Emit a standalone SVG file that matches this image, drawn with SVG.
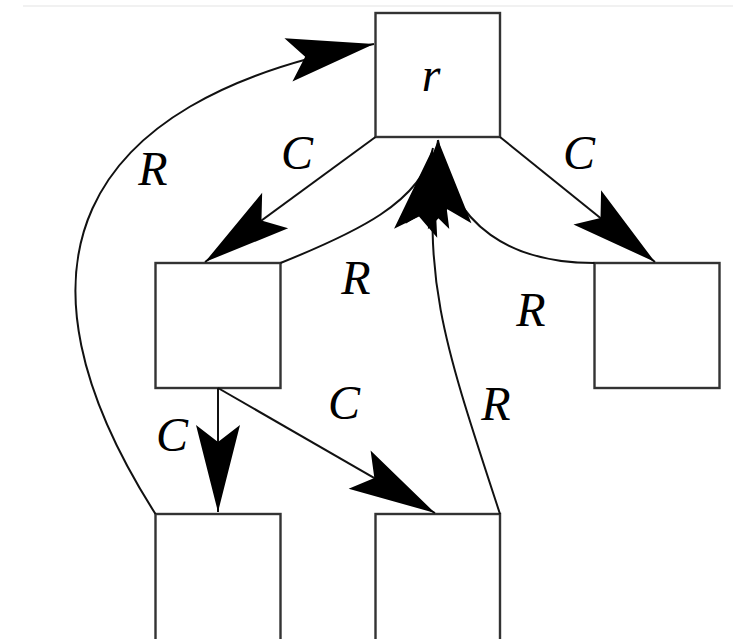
<svg xmlns="http://www.w3.org/2000/svg" width="733" height="639" viewBox="0 0 733 639">
  <style>
    .node rect { fill: #ffffff; stroke: #333333; stroke-width: 2.4; }
    .edge { fill: none; stroke: #111111; stroke-width: 2; marker-end: url(#stealth); }
    .lbl { font-family: "Liberation Serif", "Times New Roman", serif; font-style: italic; font-size: 48px; fill: #000000; text-anchor: middle; }
  </style>
  <defs>
    <marker id="stealth" markerUnits="userSpaceOnUse" viewBox="-90 -25 92 50" markerWidth="92" markerHeight="50" refX="0" refY="0" orient="auto">
      <path d="M0,0 L-87,-22 L-70,0 L-87,22 Z" fill="#000000"/>
    </marker>
  </defs>

  <rect width="733" height="639" fill="#ffffff"/>
  <line x1="23" y1="6" x2="733" y2="6" stroke="#ececec" stroke-width="1.5"/>

  <!-- nodes -->
  <g id="root" class="node">
    <rect x="375.5" y="13" width="124.5" height="124"/>
    <text class="lbl" x="431" y="91">r</text>
  </g>
  <g id="left" class="node">
    <rect x="155.5" y="263" width="125" height="125"/>
  </g>
  <g id="right" class="node">
    <rect x="594.5" y="263" width="125" height="125"/>
  </g>
  <g id="bottom-left" class="node">
    <rect x="155.5" y="514" width="125" height="135"/>
  </g>
  <g id="bottom-mid" class="node">
    <rect x="375.5" y="514" width="124.5" height="135"/>
  </g>

  <!-- connectors -->
  <g id="edges">
    <!-- C edges (child links) -->
    <path class="edge" d="M375.5,137 L205,262"/>
    <path class="edge" d="M500,137 L655,262"/>
    <path class="edge" d="M218,388 L218,512"/>
    <path class="edge" d="M218,388 L435,513"/>
    <!-- R edges (root links) -->
    <path class="edge" d="M155.5,514 C0,270 70,100 374,44"/>
    <path class="edge" d="M500,514 C444,343 421,279 438,140"/>
    <path class="edge" d="M594.5,263 C514,263 450,229 438,140"/>
    <path class="edge" d="M280.5,263 C355,233 422,202 433,148"/>
  </g>

  <!-- edge labels -->
  <g id="labels">
    <text class="lbl" x="297" y="169">C</text>
    <text class="lbl" x="579" y="169">C</text>
    <text class="lbl" x="153" y="185">R</text>
    <text class="lbl" x="356" y="294">R</text>
    <text class="lbl" x="531" y="326">R</text>
    <text class="lbl" x="344" y="419">C</text>
    <text class="lbl" x="496" y="420">R</text>
    <text class="lbl" x="172" y="451">C</text>
  </g>
</svg>
